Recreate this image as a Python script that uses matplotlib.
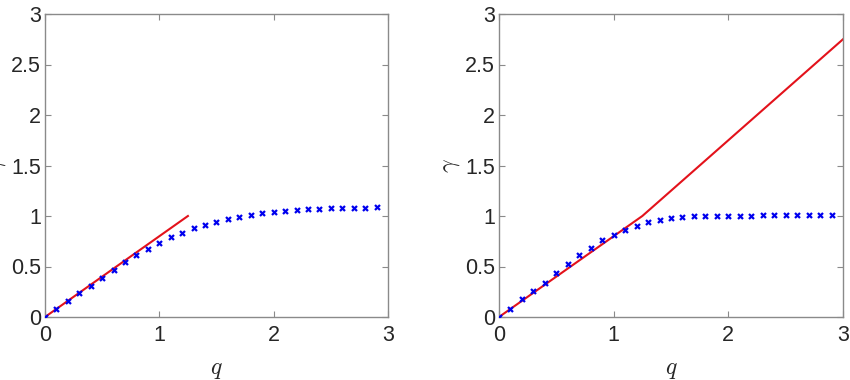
import matplotlib
matplotlib.use("Agg")
import matplotlib.pyplot as plt

q = [0.0, 0.1, 0.2, 0.3, 0.4, 0.5, 0.6, 0.7, 0.8, 0.9, 1.0, 1.1, 1.2, 1.3, 1.4,
     1.5, 1.6, 1.7, 1.8, 1.9, 2.0, 2.1, 2.2, 2.3, 2.4, 2.5, 2.6, 2.7, 2.8, 2.9]
gamma_left = [0.0, 0.08, 0.155, 0.24, 0.31, 0.39, 0.47, 0.54, 0.61, 0.67, 0.73, 0.79,
              0.83, 0.88, 0.915, 0.945, 0.975, 0.99, 1.01, 1.03, 1.04, 1.05, 1.06,
              1.065, 1.065, 1.075, 1.075, 1.075, 1.075, 1.085]
gamma_right = [0.0, 0.083, 0.175, 0.26, 0.34, 0.44, 0.52, 0.61, 0.68, 0.76, 0.815,
               0.865, 0.905, 0.945, 0.965, 0.98, 0.99, 1.0, 1.0, 1.0, 1.0, 1.0, 1.0,
               1.01, 1.01, 1.01, 1.01, 1.01, 1.01, 1.01]
line_left_q = [0.0, 1.25]
line_left_g = [0.0, 1.0]
line_right_q = [0.0, 1.25, 3.0]
line_right_g = [0.0, 1.0, 2.75]
ticks_x = [0, 1, 2, 3]
ticks_y = [0, 0.5, 1, 1.5, 2, 2.5, 3]
tick_labels_y = ["0", "0.5", "1", "1.5", "2", "2.5", "3"]

plt.rcParams['font.family'] = ['Liberation Sans', 'DejaVu Sans']
plt.rcParams['mathtext.fontset'] = 'cm'

fig = plt.figure(figsize=(8.5, 3.8), dpi=100)
ax1 = fig.add_axes([45/850, 1-317/380, 343/850, 303/380])
ax2 = fig.add_axes([499/850, 1-317/380, 344/850, 303/380])

spine_col = '#8a8a8a'
text_col = '#262626'

for ax, g, lq, lg in [(ax1, gamma_left, line_left_q, line_left_g),
                      (ax2, gamma_right, line_right_q, line_right_g)]:
    ax.plot(lq, lg, color='#e3121b', lw=1.5, zorder=2)
    ax.plot(q, g, linestyle='none', marker='x', color='#0000ee', ms=3.6, mew=1.6, zorder=3)
    ax.set_xlim(0, 3)
    ax.set_ylim(0, 3)
    ax.set_xticks(ticks_x)
    ax.set_yticks(ticks_y)
    ax.set_yticklabels(tick_labels_y)
    ax.tick_params(direction='in', length=4, width=0.8, color=spine_col,
                   labelsize=15.5, labelcolor=text_col, top=True, right=True, pad=3)
    ax.tick_params(axis='x', pad=6)
    for s in ax.spines.values():
        s.set_color(spine_col)
        s.set_linewidth(1.0)
    ax.set_xlabel(r'$q$', fontsize=17, color=text_col, labelpad=9)

ax1.set_ylabel(r'$\gamma$', fontsize=17, color=text_col, labelpad=2)
ax2.set_ylabel(r'$\gamma$', fontsize=17, color=text_col, labelpad=2)

fig.savefig('out.png', dpi=100)
